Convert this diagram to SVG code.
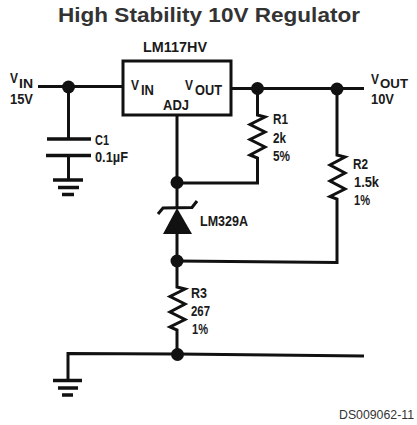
<svg xmlns="http://www.w3.org/2000/svg" width="417" height="425" viewBox="0 0 417 425">
<style>
text{font-family:"Liberation Sans",Arial,sans-serif;fill:#111}
.t{font-size:20.5px;font-weight:bold;fill:#333}
.l{font-size:15px;font-weight:bold;fill:#1a1a1a}
.s{font-size:14px;font-weight:bold;fill:#1a1a1a}
.u{font-size:13px;font-weight:bold;fill:#1a1a1a}
.d{font-size:12.5px;fill:#333}
.w{fill:none;stroke:#111;stroke-width:3;stroke-linejoin:miter}
.g{fill:none;stroke:#111;stroke-width:3.500}
.j{fill:#111}
</style>
<rect width="417" height="425" fill="#fff"/>
<text class="t" x="58" y="22" textLength="302" lengthAdjust="spacingAndGlyphs">High Stability 10V Regulator</text>
<g id="connectors">
<path class="w" d="M38 86.500H122"/>
<path class="w" d="M68.500 87V139M68.500 156V180"/>
<path class="w" d="M231 88.500H364"/>
<path class="w" d="M257.500 88.500V115L265 117L250 124.500L265 132L250 139.500L265 147L250 155L257.500 158V183H177"/>
<path class="w" d="M337 88.500V155L345 157L330 165L345 173L330 181L345 189L330 196.500L337 199V262.500L177 261"/>
<path class="w" d="M177 115V208M177 233V287L185 289L170 296.500L185 304L170 312L185 319.500L170 327L177 330V354"/>
<path class="w" d="M364 356L177 354L68 353.500V380"/>
</g>
<g id="lm117hv">
<rect class="w" x="123" y="61" width="108" height="54"/>
<text class="l" x="143" y="52" textLength="64" lengthAdjust="spacingAndGlyphs">LM117HV</text>
<text class="l" x="131" y="90" textLength="8" lengthAdjust="spacingAndGlyphs">V</text>
<text class="l" x="141" y="95" textLength="13" lengthAdjust="spacingAndGlyphs">IN</text>
<text class="l" x="185" y="90" textLength="8" lengthAdjust="spacingAndGlyphs">V</text>
<text class="l" x="195" y="95" textLength="27" lengthAdjust="spacingAndGlyphs">OUT</text>
<text class="l" x="163" y="110" textLength="26" lengthAdjust="spacingAndGlyphs">ADJ</text>
</g>
<g id="vin">
<text class="l" x="10" y="83" textLength="8" lengthAdjust="spacingAndGlyphs">V</text>
<text class="u" x="19" y="88" textLength="14" lengthAdjust="spacingAndGlyphs">IN</text>
<text class="s" x="10" y="103.500" textLength="23" lengthAdjust="spacingAndGlyphs">15V</text>
<circle class="j" cx="68.500" cy="87" r="6.500"/>
</g>
<g id="vout">
<text class="l" x="371" y="84" textLength="8" lengthAdjust="spacingAndGlyphs">V</text>
<text class="u" x="380" y="88" textLength="28" lengthAdjust="spacingAndGlyphs">OUT</text>
<text class="s" x="371" y="103.500" textLength="23" lengthAdjust="spacingAndGlyphs">10V</text>
<circle class="j" cx="257.500" cy="88.500" r="6.500"/>
<circle class="j" cx="337" cy="89" r="6.500"/>
</g>
<g id="c1">
<path class="g" d="M47 139H91M46 155.500H91"/>
<text class="l" x="95" y="145" textLength="14" lengthAdjust="spacingAndGlyphs">C1</text>
<text class="l" x="95" y="162" textLength="33" lengthAdjust="spacingAndGlyphs">0.1µF</text>
</g>
<g id="ground1">
<path class="g" d="M53 180H83M58 187.500H79M62 194.500H74"/>
</g>
<g id="r1">
<text class="l" x="273" y="124" textLength="15" lengthAdjust="spacingAndGlyphs">R1</text>
<text class="l" x="273" y="143" textLength="13" lengthAdjust="spacingAndGlyphs">2k</text>
<text class="l" x="273" y="161" textLength="17" lengthAdjust="spacingAndGlyphs">5%</text>
</g>
<g id="r2">
<text class="l" x="353" y="169" textLength="15" lengthAdjust="spacingAndGlyphs">R2</text>
<text class="l" x="354" y="187" textLength="25" lengthAdjust="spacingAndGlyphs">1.5k</text>
<text class="l" x="354" y="205" textLength="16" lengthAdjust="spacingAndGlyphs">1%</text>
</g>
<g id="zener">
<circle class="j" cx="177" cy="182.500" r="6.500"/>
<path class="j" d="M177 208L192 234H163Z"/>
<path class="w" d="M158 214L163 208L192 207.500L197 201"/>
<text class="l" x="200" y="226" textLength="48" lengthAdjust="spacingAndGlyphs">LM329A</text>
</g>
<g id="r3">
<circle class="j" cx="177" cy="261" r="6.500"/>
<text class="l" x="191" y="298" textLength="16" lengthAdjust="spacingAndGlyphs">R3</text>
<text class="l" x="191" y="316" textLength="19" lengthAdjust="spacingAndGlyphs">267</text>
<text class="l" x="192" y="334" textLength="16" lengthAdjust="spacingAndGlyphs">1%</text>
<circle class="j" cx="177.500" cy="354.500" r="6.500"/>
</g>
<g id="ground2">
<path class="g" d="M53 380.500H82M58 388H78M62 395H73"/>
</g>
<text class="d" x="339" y="419" textLength="75" lengthAdjust="spacingAndGlyphs">DS009062-11</text>
</svg>
